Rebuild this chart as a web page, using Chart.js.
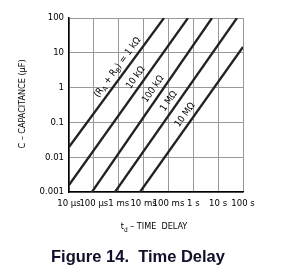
<!DOCTYPE html>
<html>
<head>
<meta charset="utf-8">
<script src="https://cdn.jsdelivr.net/npm/chart.js@4.4.0/dist/chart.umd.min.js"></script>
<style>
  body { margin: 0; background: #fff; }
  #wrap { width: 285px; height: 273px; position: relative; }
</style>
</head>
<body>
<div id="wrap"><canvas id="chart"></canvas></div>
<script>
// tick positions and labels
const xTicks = [1e-5, 1e-4, 1e-3, 1e-2, 1e-1, 1, 10, 100];
const xTickLabels = ['10 μs', '100 μs', '1 ms', '10 ms', '100 ms', '1 s', '10 s', '100 s'];
const yTicks = [0.001, 0.01, 0.1, 1, 10, 100];
const yTickLabels = ['0.001', '0.01', '0.1', '1', '10', '100'];

// (RA + RB) values, time delay in s, capacitance in uF
const resistors = ['1 kΩ', '10 kΩ', '100 kΩ', '1 MΩ', '10 MΩ'];
const time1k = [1e-5, 0.066];
const cap1k = [0.0196, 100];
const time10k = [1e-5, 0.61];
const cap10k = [0.00159, 100];
const time100k = [8.4e-5, 5.65];
const cap100k = [0.001, 100];
const time1M = [7.1e-4, 57];
const cap1M = [0.001, 100];
const time10M = [0.0072, 100];
const cap10M = [0.001, 14.7];

const times = [time1k, time10k, time100k, time1M, time10M];
const caps = [cap1k, cap10k, cap100k, cap1M, cap10M];

const narrow = '"Liberation Sans Narrow", "DejaVu Sans Condensed", "Liberation Sans", Arial, sans-serif';
Chart.defaults.font.family = narrow;
Chart.defaults.color = '#000';

// where along each line its label sits (0..1)
const labelAlong = [0.58, 0.615, 0.565, 0.495, 0.5];

function drawParts(ctx, parts, size) {
  let w = 0;
  parts.forEach(p => {
    ctx.font = (p.sub ? size * 0.72 : size) + 'px ' + narrow;
    w += ctx.measureText(p.t).width;
  });
  let x = -w / 2;
  parts.forEach(p => {
    ctx.font = (p.sub ? size * 0.72 : size) + 'px ' + narrow;
    ctx.fillText(p.t, x, p.sub ? size * 0.32 : 0);
    x += ctx.measureText(p.t).width;
  });
}

const extras = {
  id: 'extras',
  afterDraw(chart) {
    const ctx = chart.ctx;
    const xs = chart.scales.x;
    const ys = chart.scales.y;
    ctx.save();
    ctx.fillStyle = '#000';
    ctx.textAlign = 'left';
    ctx.textBaseline = 'middle';

    // line labels
    resistors.forEach((r, i) => {
      const x0 = xs.getPixelForValue(times[i][0]);
      const y0 = ys.getPixelForValue(caps[i][0]);
      const x1 = xs.getPixelForValue(times[i][1]);
      const y1 = ys.getPixelForValue(caps[i][1]);
      const dx = x1 - x0, dy = y1 - y0;
      const len = Math.sqrt(dx * dx + dy * dy);
      const f = labelAlong[i];
      const cx = x0 + dx * f + dy / len * 8;
      const cy = y0 + dy * f - dx / len * 8;
      ctx.save();
      ctx.translate(cx, cy);
      ctx.rotate(Math.atan2(dy, dx));
      let parts = [{ t: r }];
      if (i === 0) {
        parts = [{ t: '(R' }, { t: 'A', sub: true }, { t: ' + R' }, { t: 'B', sub: true }, { t: ') = ' + r }];
      }
      drawParts(ctx, parts, 9.5);
      ctx.restore();
    });

    // y axis title
    ctx.save();
    ctx.translate(23, 104);
    ctx.rotate(-Math.PI / 2);
    drawParts(ctx, [{ t: 'C – CAPACITANCE (μF)' }], 9);
    ctx.restore();

    // x axis title
    ctx.save();
    ctx.translate(154, 227);
    drawParts(ctx, [{ t: 't' }, { t: 'd', sub: true }, { t: ' – TIME  DELAY' }], 9);
    ctx.restore();

    // caption
    ctx.font = 'bold 16.5px "Liberation Sans", Arial, sans-serif';
    ctx.fillStyle = '#10102a';
    ctx.textAlign = 'center';
    ctx.fillText('Figure 14.  Time Delay', 138, 257);
    ctx.restore();
  }
};

const chart = document.querySelector('#chart').getContext('2d');

new Chart(chart, {
  type: 'line',
  data: {
    datasets: resistors.map((r, i) => ({
      label: r,
      data: times[i].map((t, j) => ({ x: t, y: caps[i][j] })),
      borderColor: '#222',
      borderWidth: 2.3,
      pointRadius: 0,
      fill: false
    }))
  },
  options: {
    responsive: true,
    maintainAspectRatio: false,
    animation: false,
    layout: { padding: { top: 18, right: 42, bottom: 61, left: 0 } },
    plugins: {
      legend: { display: false },
      tooltip: { enabled: false }
    },
    scales: {
      x: {
        type: 'logarithmic',
        min: 1e-5,
        max: 100,
        afterBuildTicks: s => { s.ticks = xTicks.map(v => ({ value: v })); },
        afterFit: s => { s.height = 20; },
        grid: { color: '#999', lineWidth: 1, drawTicks: false },
        border: { color: '#000', width: 1.5 },
        ticks: {
          autoSkip: false,
          maxRotation: 0,
          padding: 6,
          font: { size: 9.5 },
          callback: (v, i) => xTickLabels[i]
        }
      },
      y: {
        type: 'logarithmic',
        min: 0.001,
        max: 100,
        afterBuildTicks: s => { s.ticks = yTicks.map(v => ({ value: v })); },
        afterFit: s => { s.width = 69; },
        grid: { color: '#999', lineWidth: 1, drawTicks: false },
        border: { color: '#000', width: 1.5 },
        ticks: {
          autoSkip: false,
          padding: 5,
          font: { size: 9.5 },
          callback: (v, i) => yTickLabels[i]
        }
      }
    }
  },
  plugins: [extras]
});
</script>
</body>
</html>
